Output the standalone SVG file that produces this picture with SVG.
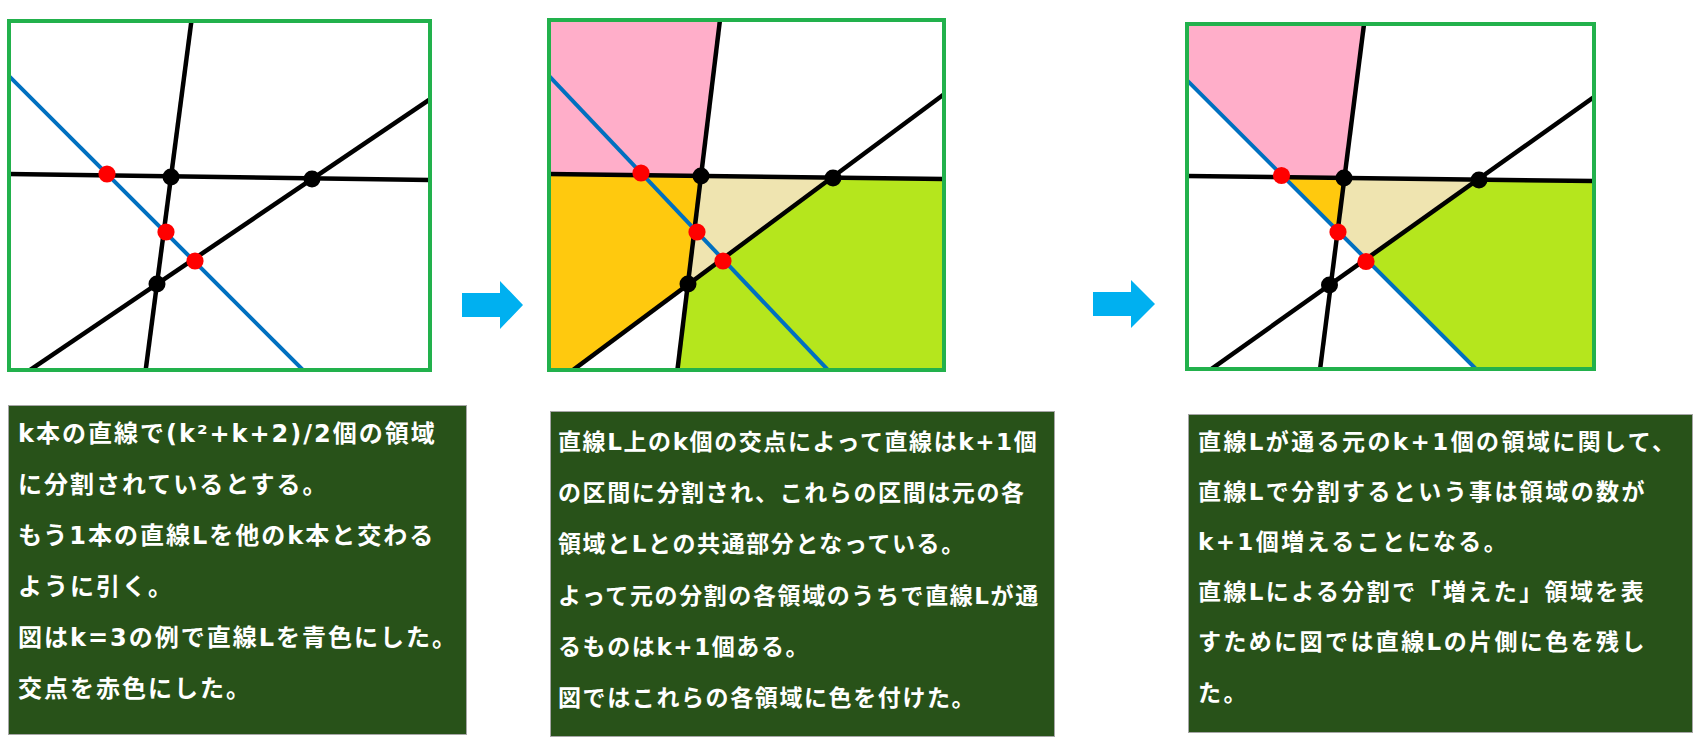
<svg xmlns="http://www.w3.org/2000/svg" width="1699" height="742" viewBox="0 0 1699 742">
<defs>
<style>
.frame{fill:none;stroke:#22B14C;stroke-width:4}
.ln{stroke:#000;stroke-width:4.5;fill:none}
.bl{stroke:#0070C0;stroke-width:4;fill:none}
.rd{fill:#FF0000}
.bk{fill:#000}
.pink{fill:#FFAEC9}
.orange{fill:#FFC90E}
.beige{fill:#EFE4B0}
.green{fill:#B5E61D}
.box{fill:#285219;stroke:#A6A6A6;stroke-width:1}
.t{fill:#FFFFFF;font-family:'DejaVu Sans','Noto Sans CJK JP',sans-serif;font-weight:bold}
.t1{font-size:24px;letter-spacing:2px}
.t2{font-size:23px;letter-spacing:1.6px}
.t3{font-size:23px;letter-spacing:2.4px}
.arrow{fill:#00B0F0}
</style>
<clipPath id="c1"><rect x="9" y="21" width="421" height="349"/></clipPath>
<clipPath id="c2"><rect x="549" y="20" width="395" height="350"/></clipPath>
<clipPath id="c3"><rect x="1187" y="24" width="407" height="345"/></clipPath>
</defs>
<rect x="0" y="0" width="1699" height="742" fill="#FFFFFF"/>

<g id="panel1">
<g clip-path="url(#c1)">
<line class="ln" x1="5" y1="174" x2="434" y2="180"/>
<line class="ln" x1="192.2" y1="15" x2="144.9" y2="376"/>
<line class="ln" x1="25" y1="373.4" x2="436" y2="95.1"/>
<line class="bl" x1="5" y1="72" x2="310" y2="377"/>
</g>
<circle class="bk" cx="171" cy="177" r="8.5"/>
<circle class="bk" cx="312" cy="179" r="8.5"/>
<circle class="bk" cx="157" cy="284" r="8.5"/>
<circle class="rd" cx="107" cy="174" r="8.6"/>
<circle class="rd" cx="166" cy="232" r="8.6"/>
<circle class="rd" cx="195" cy="261" r="8.6"/>
<rect class="frame" x="9" y="21" width="421" height="349"/>
</g>

<g id="panel2">
<g clip-path="url(#c2)">
<polygon class="pink" points="545,15 720.7,15 701,176 545,173.9"/>
<polygon class="orange" points="545,173.9 701,176 688,284.6 573,370 545,375"/>
<polygon class="beige" points="701,176 832,177.6 688,284.6"/>
<polygon class="green" points="832,177.6 950,179.1 950,376 676.7,376 688,284.6"/>
<line class="ln" x1="545" y1="173.9" x2="950" y2="179.1"/>
<line class="ln" x1="720.7" y1="14" x2="676.7" y2="376"/>
<line class="ln" x1="565" y1="376" x2="950" y2="89.8"/>
<line class="bl" x1="545" y1="71.7" x2="834" y2="376.3"/>
</g>
<circle class="bk" cx="701" cy="176" r="8.5"/>
<circle class="bk" cx="833" cy="178" r="8.5"/>
<circle class="bk" cx="688" cy="284" r="8.5"/>
<circle class="rd" cx="641" cy="173" r="8.6"/>
<circle class="rd" cx="697" cy="232" r="8.6"/>
<circle class="rd" cx="723" cy="261" r="8.6"/>
<rect class="frame" x="549" y="20" width="395" height="350"/>
</g>

<g id="panel3">
<g clip-path="url(#c3)">
<polygon class="pink" points="1180,18 1364.8,18 1344.4,177.9 1283.7,177.2 1180,73.3"/>
<polygon class="orange" points="1283.7,177.2 1344.4,177.9 1337.7,231.3"/>
<polygon class="beige" points="1344.4,177.9 1477.8,179.6 1365.6,259.4 1337.7,231.3"/>
<polygon class="green" points="1477.8,179.6 1600,181.1 1600,376 1483,376 1365.6,259.4"/>
<line class="ln" x1="1180" y1="175.9" x2="1600" y2="181.1"/>
<line class="ln" x1="1364.8" y1="18" x2="1319.2" y2="376"/>
<line class="ln" x1="1201.6" y1="376" x2="1600" y2="92.7"/>
<line class="bl" x1="1180" y1="73.3" x2="1483" y2="376"/>
</g>
<circle class="bk" cx="1344" cy="178" r="8.5"/>
<circle class="bk" cx="1479" cy="180" r="8.5"/>
<circle class="bk" cx="1329.5" cy="285" r="8.5"/>
<circle class="rd" cx="1281.5" cy="175.5" r="8.6"/>
<circle class="rd" cx="1338" cy="232" r="8.6"/>
<circle class="rd" cx="1366" cy="261.5" r="8.6"/>
<rect class="frame" x="1187" y="24" width="407" height="345"/>
</g>

<g id="connectors">
<polygon class="arrow" points="462,293 500,293 500,281 523,305 500,329 500,317 462,317"/>
<polygon class="arrow" points="1093,292 1131,292 1131,280 1155,304 1131,328 1131,316 1093,316"/>
</g>

<g id="text1">
<rect class="box" x="8.5" y="405.5" width="458" height="329"/>
<text class="t t1" x="18"><tspan x="18" y="442">k本の直線で(k²+k+2)/2個の領域</tspan><tspan x="18" y="493">に分割されているとする。</tspan><tspan x="18" y="544">もう1本の直線Lを他のk本と交わる</tspan><tspan x="18" y="595">ように引く。</tspan><tspan x="18" y="646">図はk=3の例で直線Lを青色にした。</tspan><tspan x="18" y="697">交点を赤色にした。</tspan></text>
</g>

<g id="text2">
<rect class="box" x="550.5" y="411.5" width="504" height="325"/>
<text class="t t2" x="558"><tspan x="558" y="450">直線L上のk個の交点によって直線はk+1個</tspan><tspan x="558" y="501">の区間に分割され、これらの区間は元の各</tspan><tspan x="558" y="552">領域とLとの共通部分となっている。</tspan><tspan x="558" y="604">よって元の分割の各領域のうちで直線Lが通</tspan><tspan x="558" y="655">るものはk+1個ある。</tspan><tspan x="558" y="706">図ではこれらの各領域に色を付けた。</tspan></text>
</g>

<g id="text3">
<rect class="box" x="1188.5" y="414.5" width="504" height="318"/>
<text class="t t3" x="1198"><tspan x="1198" y="450">直線Lが通る元のk+1個の領域に関して、</tspan><tspan x="1198" y="500">直線Lで分割するという事は領域の数が</tspan><tspan x="1198" y="550">k+1個増えることになる。</tspan><tspan x="1198" y="600">直線Lによる分割で「増えた」領域を表</tspan><tspan x="1198" y="650">すために図では直線Lの片側に色を残し</tspan><tspan x="1198" y="701">た。</tspan></text>
</g>
</svg>
